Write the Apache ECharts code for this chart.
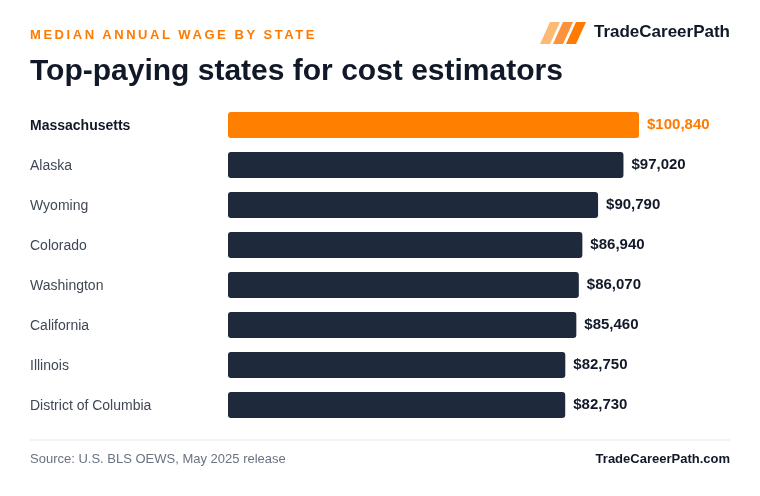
<!DOCTYPE html>
<html><head><meta charset="utf-8">
<script src="https://cdn.jsdelivr.net/npm/echarts@6/dist/echarts.min.js"></script>
<style>html,body{margin:0;padding:0;background:#fff;}#wrap{position:relative;width:760px;height:496px;}#c{width:760px;height:496px;position:absolute;left:0;top:0;}
#kick{position:absolute;left:30px;top:27px;font:bold 13px "Liberation Sans",Arial,sans-serif;letter-spacing:2.55px;color:#ff7a00;z-index:5;}</style>
</head><body>
<div id="wrap"><div id="c"></div><div id="kick">MEDIAN ANNUAL WAGE BY STATE</div></div>
<script>
const states = ["Massachusetts","Alaska","Wyoming","Colorado","Washington","California","Illinois","District of Columbia"];
const wages = [100840,97020,90790,86940,86070,85460,82750,82730];
const F = '"Liberation Sans",Arial,sans-serif';
const chart = echarts.init(document.getElementById('c'));
const logo = [0,1,2].map(i=>({type:'polygon',shape:{points:[[550+13*i,22],[560+13*i,22],[550+13*i,44],[540+13*i,44]]},style:{fill:['#fdba74','#fb923c','#ff7a00'][i]}}));
chart.setOption({
  animation:false,
  grid:{left:228,right:30,top:105,bottom:71,containLabel:false},
  xAxis:{type:'value',min:0,max:123160,show:false},
  yAxis:{type:'category',data:states,inverse:true,axisLine:{show:false},axisTick:{show:false},
    axisLabel:{margin:198,align:'left',fontFamily:F,fontSize:14,color:'#3f4856',padding:[3,0,0,0],
      formatter:(v,i)=>i===0?'{b|'+v+'}':v,rich:{b:{fontFamily:F,fontSize:14,fontWeight:'bold',color:'#111827'}}}},
  series:[{type:'bar',barWidth:26,data:wages.map((v,i)=>({value:v,itemStyle:{color:i===0?'#ff7f00':'#1e293b',borderRadius:3},
      label:{color:i===0?'#ff7a00':'#111827'}})),
    label:{show:true,position:'right',distance:8,fontFamily:F,fontSize:15,fontWeight:'bold',padding:[4,0,0,0],
      formatter:p=>'$'+p.value.toLocaleString('en-US')}}],
  graphic:[
    {type:'text',left:30,top:57,style:{text:'Top-paying states for cost estimators',font:'bold 30px '+F,fill:'#111827'}},
    ...logo,
    {type:'text',right:30,top:24,style:{text:'TradeCareerPath',font:'bold 17px '+F,fill:'#111827'}},
    {type:'line',shape:{x1:30,y1:440,x2:730,y2:440},style:{stroke:'#e5e7eb',lineWidth:1}},
    {type:'text',left:30,top:453,style:{text:'Source: U.S. BLS OEWS, May 2025 release',font:'13px '+F,fill:'#6b7280'}},
    {type:'text',right:30,top:453,style:{text:'TradeCareerPath.com',font:'bold 13px '+F,fill:'#111827'}}
  ]
});
</script></body></html>
